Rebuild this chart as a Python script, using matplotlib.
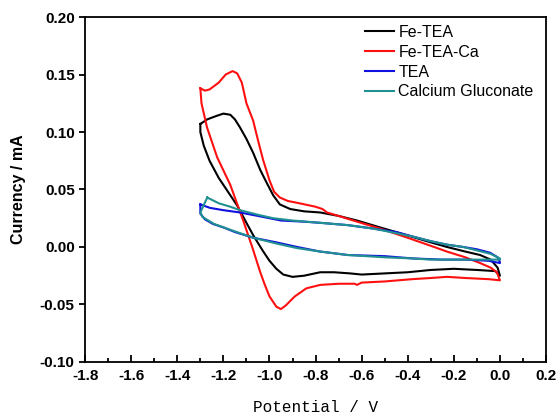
import matplotlib.pyplot as plt
from matplotlib.ticker import MultipleLocator

# Fe-TEA (black): upper branch then lower branch
fe_tea_v = [-1.30, -1.27, -1.23, -1.20, -1.17, -1.15, -1.128, -1.10, -1.071, -1.04,
            -1.01, -0.984, -0.955, -0.91, -0.85, -0.78, -0.70, -0.62, -0.52, -0.40,
            -0.30, -0.23, -0.15, -0.086, -0.04, -0.01, 0.0,
            -0.02, -0.10, -0.20, -0.30, -0.40, -0.50, -0.60, -0.65, -0.72, -0.78,
            -0.85, -0.90, -0.94, -0.97, -1.00, -1.03, -1.07, -1.10, -1.14, -1.18,
            -1.22, -1.26, -1.285, -1.30, -1.30]
fe_tea_i = [0.107, 0.111, 0.114, 0.116, 0.115, 0.111, 0.104, 0.094, 0.082, 0.067,
            0.055, 0.045, 0.037, 0.033, 0.031, 0.030, 0.027, 0.023, 0.017, 0.010,
            0.004, 0.000, -0.004, -0.007, -0.011, -0.018, -0.025,
            -0.021, -0.020, -0.019, -0.020, -0.022, -0.023, -0.024, -0.023, -0.022, -0.022,
            -0.025, -0.026, -0.024, -0.019, -0.012, -0.003, 0.010, 0.021, 0.036, 0.048,
            0.060, 0.075, 0.088, 0.100, 0.107]

# Fe-TEA-Ca (red)
fe_tea_ca_v = [-1.30, -1.28, -1.26, -1.22, -1.19, -1.16, -1.14, -1.12, -1.10, -1.071,
               -1.05, -1.028, -1.00, -0.98, -0.955, -0.92, -0.87, -0.80, -0.77, -0.75,
               -0.70, -0.62, -0.52, -0.40, -0.30, -0.23, -0.15, -0.086, -0.04, -0.013, 0.0,
               -0.05, -0.15, -0.23, -0.30, -0.38, -0.50, -0.60, -0.62, -0.63, -0.70,
               -0.78, -0.84, -0.89, -0.93, -0.95, -0.97, -1.00, -1.02, -1.04, -1.075,
               -1.114, -1.17, -1.227, -1.271, -1.295, -1.30]
fe_tea_ca_i = [0.138, 0.136, 0.137, 0.143, 0.150, 0.153, 0.151, 0.143, 0.125, 0.110,
               0.093, 0.076, 0.058, 0.048, 0.043, 0.040, 0.038, 0.035, 0.033, 0.030,
               0.027, 0.022, 0.016, 0.008, 0.001, -0.004, -0.009, -0.014, -0.018, -0.022, -0.029,
               -0.028, -0.027, -0.026, -0.027, -0.028, -0.030, -0.031, -0.033, -0.032, -0.032,
               -0.033, -0.036, -0.043, -0.051, -0.054, -0.052, -0.043, -0.033, -0.022, 0.000,
               0.023, 0.054, 0.078, 0.104, 0.125, 0.138]

# TEA (blue)
tea_v = [-1.30, -1.258, -1.20, -1.128, -1.05, -0.95, -0.85, -0.78, -0.66, -0.55,
         -0.45, -0.377, -0.30, -0.23, -0.16, -0.10, -0.043, -0.01, 0.0,
         0.0, -0.05, -0.15, -0.25, -0.377, -0.50, -0.66, -0.78, -0.88, -0.97,
         -1.07, -1.15, -1.20, -1.245, -1.28, -1.30, -1.30]
tea_i = [0.037, 0.034, 0.032, 0.030, 0.027, 0.023, 0.022, 0.021, 0.019, 0.016,
         0.013, 0.009, 0.005, 0.002, 0.000, -0.002, -0.005, -0.009, -0.013,
         -0.014, -0.012, -0.011, -0.011, -0.010, -0.008, -0.007, -0.004, 0.000, 0.004,
         0.008, 0.013, 0.017, 0.020, 0.024, 0.029, 0.037]

# Calcium Gluconate (teal)
ca_glu_v = [-1.27, -1.22, -1.17, -1.128, -1.05, -0.984, -0.90, -0.78, -0.66, -0.55,
            -0.45, -0.377, -0.30, -0.23, -0.16, -0.10, -0.04, 0.0,
            0.0, -0.086, -0.20, -0.30, -0.377, -0.50, -0.66, -0.78, -0.88, -0.97,
            -1.07, -1.171, -1.24, -1.29, -1.30, -1.27]
ca_glu_i = [0.043, 0.038, 0.035, 0.032, 0.028, 0.025, 0.023, 0.021, 0.019, 0.016,
            0.012, 0.009, 0.005, 0.002, 0.000, -0.003, -0.006, -0.010,
            -0.011, -0.011, -0.011, -0.011, -0.010, -0.009, -0.007, -0.004, -0.001, 0.003,
            0.008, 0.015, 0.020, 0.026, 0.030, 0.043]

series = [
    ("Fe-TEA", fe_tea_v, fe_tea_i, "#000000"),
    ("Fe-TEA-Ca", fe_tea_ca_v, fe_tea_ca_i, "#ff1010"),
    ("TEA", tea_v, tea_i, "#1010e0"),
    ("Calcium Gluconate", ca_glu_v, ca_glu_i, "#209090"),
]

plt.rcParams['font.family'] = ['Liberation Sans', 'DejaVu Sans']

fig = plt.figure(figsize=(5.6, 4.16), dpi=100)
ax = fig.add_axes([0.152, 0.130, 0.823, 0.829])

for name, v, i, c in series:
    ax.plot(v, i, color=c, lw=1.5, label=name)

ax.set_xlim(-1.8, 0.2)
ax.set_ylim(-0.10, 0.20)
ax.xaxis.set_major_locator(MultipleLocator(0.2))
ax.xaxis.set_minor_locator(MultipleLocator(0.1))
ax.yaxis.set_major_locator(MultipleLocator(0.05))
ax.xaxis.set_major_formatter(plt.FuncFormatter(lambda x, p: f"{x:.1f}"))
ax.yaxis.set_major_formatter(plt.FuncFormatter(lambda y, p: f"{y:.2f}"))

ax.tick_params(axis='x', which='major', direction='in', length=5, width=1.3, pad=5)
ax.tick_params(axis='x', which='minor', direction='in', length=3, width=1.3)
ax.tick_params(axis='y', which='major', direction='out', length=4, width=1.3)
for lab in ax.get_xticklabels() + ax.get_yticklabels():
    lab.set_fontweight('bold')
    lab.set_fontsize(11)
for s in ax.spines.values():
    s.set_linewidth(1.3)

ax.set_ylabel("Currency / mA", fontsize=11.5, fontweight='bold', labelpad=10)
ax.set_xlabel("Potential / V", fontsize=11.5, family=['Liberation Mono', 'DejaVu Sans Mono'],
              labelpad=12)

ax.legend(loc='upper left', bbox_to_anchor=(0.607, 0.977), frameon=False,
          fontsize=11.5, borderpad=0, borderaxespad=0, handlelength=1.85,
          handletextpad=0.25, labelspacing=0.3)

plt.savefig("out.png", dpi=100)
plt.close(fig)
